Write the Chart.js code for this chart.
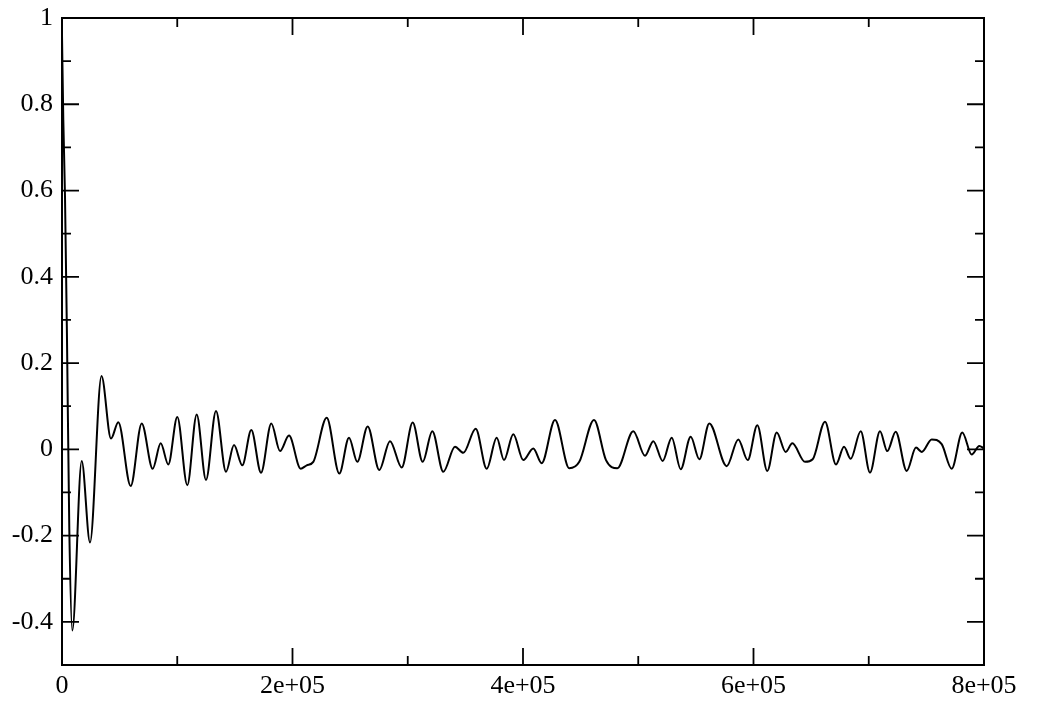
<!DOCTYPE html>
<html>
<head>
<meta charset="utf-8">
<title>Autocorrelation</title>
<script src="https://cdn.jsdelivr.net/npm/chart.js@4/dist/chart.umd.min.js"></script>
<style>
  html, body { margin: 0; padding: 0; background: #fff; }
  canvas { display: block; }
</style>
</head>
<body>
<canvas id="myChart" width="1055" height="715"></canvas>
<script>
// values (turning points of the curve)
const lagX = [
  0, 1128, 2603, 4338, 6334, 8937, 17093, 24295, 34273, 42516,
  48850, 59610, 69154, 78699, 85640, 92234, 100043, 108720, 116876, 124946,
  133623, 142300, 149241, 156443, 164252, 172668, 181605, 189154, 196963, 207115,
  212321, 218048, 229675, 240608, 249024, 256226, 265250, 275315, 284599, 294751,
  304295, 312972, 321302, 330846, 341000, 348200, 358960, 368500, 377180, 383510,
  391580, 400260, 408940, 416220, 427760, 440170, 448840, 461600, 472010, 481820,
  495700, 505860, 513060, 521220, 529030, 536830, 545510, 552970, 561650, 576750,
  586810, 594970, 603300, 611980, 620130, 627940, 633670, 644690, 651370, 662040,
  671590, 678530, 684340, 693020, 701080, 709760, 716090, 723380, 732930, 741000,
  745940, 754620, 763290, 771970, 781160, 789320, 795920, 800000
];
const acf = [
  0.96, 0.764, 0.586, 0.255, -0.185, -0.42, -0.027, -0.216, 0.17, 0.025,
  0.063, -0.085, 0.06, -0.045, 0.014, -0.035, 0.075, -0.083, 0.081, -0.071,
  0.089, -0.052, 0.01, -0.037, 0.045, -0.054, 0.06, -0.004, 0.032, -0.045,
  -0.037, -0.029, 0.073, -0.056, 0.027, -0.029, 0.053, -0.048, 0.019, -0.042,
  0.062, -0.029, 0.042, -0.052, 0.006, -0.008, 0.048, -0.045, 0.027, -0.025,
  0.035, -0.025, 0.002, -0.032, 0.068, -0.044, -0.029, 0.068, -0.025, -0.044,
  0.042, -0.015, 0.019, -0.027, 0.027, -0.046, 0.029, -0.023, 0.06, -0.039,
  0.023, -0.025, 0.056, -0.05, 0.039, -0.006, 0.014, -0.029, -0.023, 0.064,
  -0.035, 0.006, -0.022, 0.042, -0.054, 0.042, -0.004, 0.041, -0.05, 0.004,
  -0.006, 0.023, 0.012, -0.045, 0.039, -0.012, 0.008, 0.002
];

// axis ticks
const xTickVals = [0, 200000, 400000, 600000, 800000];
const xTickLabels = ["0", "2e+05", "4e+05", "6e+05", "8e+05"];
const xMinorVals = [100000, 300000, 500000, 700000];
const yTickVals = [-0.4, -0.2, 0, 0.2, 0.4, 0.6, 0.8, 1];
const yTickLabels = ["-0.4", "-0.2", "0", "0.2", "0.4", "0.6", "0.8", "1"];
const yMinorVals = [-0.3, -0.1, 0.1, 0.3, 0.5, 0.7, 0.9];

const points = lagX.map((x, i) => ({ x: x, y: acf[i] }));
const labelFont = { family: "'Liberation Serif', 'Times New Roman', serif", size: 26 };

// frame + inward ticks on all four sides, like the original plot
const frameTicks = {
  id: "frameTicks",
  afterDraw(chart) {
    const ctx = chart.ctx;
    const a = chart.chartArea;
    const xs = chart.scales.x;
    const ys = chart.scales.y;
    ctx.save();
    ctx.strokeStyle = "#000";
    ctx.lineWidth = 1.8;
    ctx.beginPath();
    xTickVals.forEach((v) => {
      const p = xs.getPixelForValue(v);
      ctx.moveTo(p, a.bottom); ctx.lineTo(p, a.bottom - 17);
      ctx.moveTo(p, a.top); ctx.lineTo(p, a.top + 17);
    });
    xMinorVals.forEach((v) => {
      const p = xs.getPixelForValue(v);
      ctx.moveTo(p, a.bottom); ctx.lineTo(p, a.bottom - 9);
      ctx.moveTo(p, a.top); ctx.lineTo(p, a.top + 9);
    });
    yTickVals.forEach((v) => {
      const p = ys.getPixelForValue(v);
      ctx.moveTo(a.left, p); ctx.lineTo(a.left + 17, p);
      ctx.moveTo(a.right, p); ctx.lineTo(a.right - 17, p);
    });
    yMinorVals.forEach((v) => {
      const p = ys.getPixelForValue(v);
      ctx.moveTo(a.left, p); ctx.lineTo(a.left + 9, p);
      ctx.moveTo(a.right, p); ctx.lineTo(a.right - 9, p);
    });
    ctx.stroke();
    ctx.lineWidth = 2;
    ctx.strokeRect(a.left, a.top, a.right - a.left, a.bottom - a.top);
    ctx.restore();
  },
};

const ctx = document.getElementById("myChart").getContext("2d");
const chart = new Chart(ctx, {
  type: "line",
  data: {
    datasets: [
      {
        data: points,
        borderColor: "#000",
        borderWidth: 2,
        pointRadius: 0,
        fill: false,
        cubicInterpolationMode: "monotone",
      },
    ],
  },
  options: {
    responsive: false,
    animation: false,
    devicePixelRatio: 1,
    layout: { padding: { left: 0, right: 71, top: 18, bottom: 0 } },
    plugins: { legend: { display: false }, tooltip: { enabled: false } },
    scales: {
      x: {
        type: "linear",
        min: 0,
        max: 800000,
        grid: { display: false, drawTicks: false },
        border: { display: false },
        afterBuildTicks: (scale) => {
          scale.ticks = xTickVals.map((v) => ({ value: v }));
        },
        afterFit: (scale) => {
          scale.height = 50;
          scale.paddingLeft = 0;
          scale.paddingRight = 0;
        },
        ticks: {
          padding: 6,
          maxRotation: 0,
          autoSkip: false,
          color: "#000",
          font: labelFont,
          callback: (value, index) => xTickLabels[index],
        },
      },
      y: {
        min: -0.5,
        max: 1,
        grid: { display: false, drawTicks: false },
        border: { display: false },
        afterBuildTicks: (scale) => {
          scale.ticks = yTickVals.map((v) => ({ value: v }));
        },
        afterFit: (scale) => {
          scale.width = 62;
          scale.paddingTop = 0;
          scale.paddingBottom = 0;
        },
        ticks: {
          padding: 9,
          autoSkip: false,
          color: "#000",
          font: labelFont,
          callback: (value, index) => yTickLabels[index],
        },
      },
    },
  },
  plugins: [frameTicks],
});
</script>
</body>
</html>
